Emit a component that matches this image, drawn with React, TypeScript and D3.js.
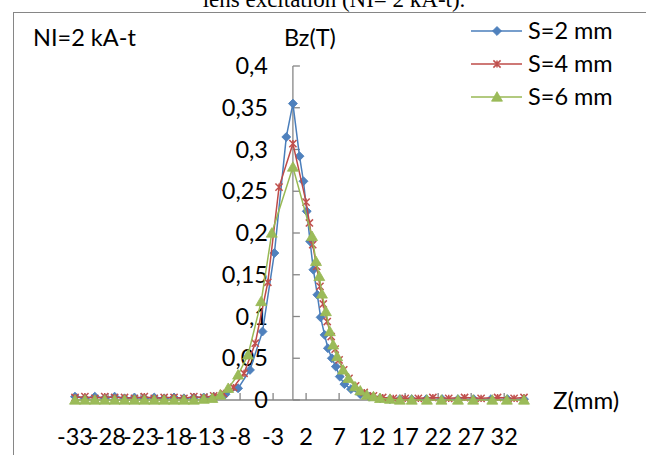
import React from "react";
import * as d3 from "d3";

// ---- data ----
const seriesNames = ["S=2 mm", "S=4 mm", "S=6 mm"];

const zS2 = [-33, -31.5, -30, -28.5, -27, -25.5, -24, -22.5, -21, -19.5, -18, -16.5, -15, -13.5, -12, -10.2, -8.3, -6.5, -4.6, -2.8, -1, 0, 1, 1.6, 2.1, 2.6, 3.1, 3.7, 4.2, 4.8, 5.3, 5.9, 6.5, 7.1, 7.8, 8.8, 10.2, 11.6, 13.2, 14.7, 16.2, 18, 20.2, 22.6, 25, 27.4, 30, 32.5, 35];
const bS2 = [0.004, 0.002, 0.004, 0.002, 0.004, 0.002, 0.003, 0.002, 0.003, 0.002, 0.003, 0.002, 0.003, 0.003, 0.004, 0.007, 0.014, 0.036, 0.082, 0.176, 0.315, 0.355, 0.292, 0.262, 0.226, 0.19, 0.156, 0.126, 0.099, 0.078, 0.062, 0.05, 0.04, 0.028, 0.019, 0.013, 0.007, 0.004, 0.002, 0.001, 0.001, 0.001, 0.001, 0.001, 0.001, 0.001, 0.001, 0.001, 0.001];

const zS4 = [-33, -31.5, -30, -28.5, -27, -25.5, -24, -22.5, -21, -19.5, -18, -16.5, -15, -13.5, -12, -10.5, -9, -7.4, -5.7, -3.8, -2.1, 0, 2.0, 2.5, 3.0, 3.6, 4.1, 4.6, 5.2, 5.8, 6.4, 7.0, 7.7, 8.5, 9.5, 10.8, 12.2, 13.6, 15.2, 17, 19, 21.2, 23.6, 26, 28.5, 31, 33.5, 35];
const bS4 = [0.003, 0.004, 0.002, 0.004, 0.003, 0.003, 0.002, 0.004, 0.002, 0.003, 0.003, 0.002, 0.004, 0.003, 0.005, 0.008, 0.015, 0.032, 0.068, 0.141, 0.255, 0.307, 0.237, 0.212, 0.186, 0.16, 0.136, 0.115, 0.094, 0.076, 0.061, 0.048, 0.036, 0.026, 0.017, 0.009, 0.005, 0.003, 0.002, 0.002, 0.002, 0.003, 0.002, 0.003, 0.002, 0.003, 0.002, 0.003];

const zS6 = [-33, -31.5, -30, -28.5, -27, -25.5, -24, -22.5, -21, -19.5, -18, -16.5, -15, -13.5, -12.2, -11, -9.8, -8.3, -6.8, -4.8, -3.2, 0, 2.9, 3.5, 4.0, 4.4, 5.0, 5.6, 6.1, 6.7, 7.6, 8.4, 9.4, 10.2, 11.2, 12.2, 13.2, 14.7, 16.2, 18, 20.3, 22.5, 25, 27.3, 30.2, 32.4, 35];
const bS6 = [0, 0, 0, 0, 0, 0, 0, 0, 0, 0, 0, 0, 0, 0.001, 0.002, 0.006, 0.014, 0.03, 0.054, 0.118, 0.2, 0.279, 0.196, 0.166, 0.148, 0.127, 0.106, 0.082, 0.066, 0.052, 0.036, 0.026, 0.016, 0.011, 0.006, 0.004, 0.002, 0.001, 0, 0, 0, 0, 0, 0, 0, 0, 0];

const xTicks = [-33, -28, -23, -18, -13, -8, -3, 2, 7, 12, 17, 22, 27, 32];
const yTicks = [0, 0.05, 0.1, 0.15, 0.2, 0.25, 0.3, 0.35, 0.4];
const yTickLabels = ["0", "0,05", "0,1", "0,15", "0,2", "0,25", "0,3", "0,35", "0,4"];

const titleText = "lens excitation (NI= 2 kA-t).";
const noteText = "NI=2 kA-t";
const yTitle = "Bz(T)";
const xTitle = "Z(mm)";

const FONT = "Lato, 'Open Sans', sans-serif";
const AXIS = "#868686";
const lineColors = ["#4A7EBB", "#BE4B48", "#98B954"];
const fillColors = ["#4F81BD", "#C0504D", "#9BBB59"];

function Marker({ kind, cx, cy }: { kind: number; cx: number; cy: number }) {
  if (kind === 0) {
    const p = d3.symbol().type(d3.symbolSquare).size(40)();
    return <path d={p || ""} transform={`translate(${cx},${cy}) rotate(45)`} fill={fillColors[0]} stroke={lineColors[0]} strokeWidth={0.8} />;
  }
  if (kind === 1) {
    const r = 3.6;
    const d = `M${-r},${-r}L${r},${r}M${-r},${r}L${r},${-r}M0,${-r}L0,${r}`;
    return <path d={d} transform={`translate(${cx},${cy})`} fill="none" stroke={fillColors[1]} strokeWidth={1.5} />;
  }
  const p = d3.symbol().type(d3.symbolTriangle).size(52)();
  return <path d={p || ""} transform={`translate(${cx},${cy + 1})`} fill={fillColors[2]} stroke={lineColors[2]} strokeWidth={0.8} />;
}

export default function App() {
  const x = d3.scaleLinear().domain([-33, 35]).range([75, 524]);
  const y = d3.scaleLinear().domain([0, 0.4]).range([400, 66]);
  const series = [
    { z: zS2, b: bS2 },
    { z: zS4, b: bS4 },
    { z: zS6, b: bS6 },
  ];
  const line = d3
    .line<[number, number]>()
    .x((d) => x(d[0]))
    .y((d) => y(d[1]));
  const x0 = x(0);

  const legendY = [31, 64, 97];

  return (
    <svg
      width={646}
      height={455}
      style={{ position: "fixed", left: 0, top: 0, background: "#fff" }}
      fontFamily={FONT}
    >
      <rect x={0} y={0} width={646} height={455} fill="#fff" />
      {/* title, cut off at the top edge as in the reference */}
      <text x={334} y={7} textAnchor="middle" fontFamily="'Liberation Serif', serif" fontSize={23} fill="#000">
        {titleText}
      </text>
      {/* chart frame */}
      <rect x={13.5} y={12.5} width={700} height={500} fill="none" stroke={AXIS} strokeWidth={1} />

      <text x={33} y={38} dy="0.35em" fontSize={23.5} fill="#000">{noteText}</text>
      <text x={284} y={38} dy="0.35em" fontSize={23.5} fill="#000">{yTitle}</text>

      {/* axes */}
      <line x1={x(-33)} x2={x(35)} y1={y(0)} y2={y(0)} stroke={AXIS} strokeWidth={1.3} />
      <line x1={x0} x2={x0} y1={y(0)} y2={y(0.4)} stroke={AXIS} strokeWidth={1.3} />
      {yTicks.map((t, i) => (
        <g key={"yt" + i}>
          <line x1={x0} x2={x0 + 7} y1={y(t)} y2={y(t)} stroke={AXIS} strokeWidth={1.3} />
          <text x={268} y={y(t)} dy="0.35em" textAnchor="end" fontSize={23.5} fill="#000">
            {yTickLabels[i]}
          </text>
        </g>
      ))}
      {xTicks.map((t, i) => (
        <g key={"xt" + i}>
          <line x1={x(t)} x2={x(t)} y1={y(0)} y2={y(0) - 7} stroke={AXIS} strokeWidth={1.3} />
          <text x={x(t)} y={437} dy="0.35em" textAnchor="middle" fontSize={23.5} fill="#000">
            {String(t)}
          </text>
        </g>
      ))}
      <text x={553} y={401} dy="0.35em" fontSize={24} fill="#000">{xTitle}</text>

      {/* series */}
      {series.map((s, k) => {
        const pts: [number, number][] = s.z.map((z, i) => [z, s.b[i]]);
        return (
          <g key={"s" + k}>
            <path d={line(pts) || ""} fill="none" stroke={lineColors[k]} strokeWidth={1.5} />
            {pts.map((p, i) => (
              <Marker key={i} kind={k} cx={x(p[0])} cy={y(p[1])} />
            ))}
          </g>
        );
      })}

      {/* legend */}
      {seriesNames.map((n, k) => (
        <g key={"lg" + k}>
          <line x1={471} x2={522} y1={legendY[k]} y2={legendY[k]} stroke={lineColors[k]} strokeWidth={1.5} />
          <Marker kind={k} cx={497} cy={legendY[k]} />
          <text x={528} y={legendY[k]} dy="0.35em" fontSize={23.5} fill="#000">{n}</text>
        </g>
      ))}
    </svg>
  );
}
